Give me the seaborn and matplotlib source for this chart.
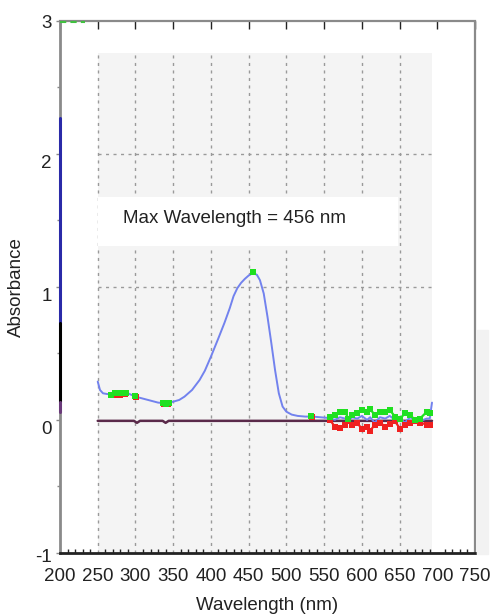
import numpy as np
import matplotlib
matplotlib.use("Agg")
import matplotlib.pyplot as plt
import matplotlib.transforms as mtransforms
from matplotlib.ticker import MultipleLocator
import seaborn as sns
import pandas as pd

sns.set_theme(style="white")
plt.rcParams['font.family'] = ['Liberation Sans', 'DejaVu Sans']

# ---- data ----
wl_main = [250, 253, 257, 262, 270, 280, 290, 300, 310, 320, 330, 340, 350,
           358, 365, 375, 385, 392, 400, 410, 418, 425, 430, 435, 440, 445,
           450, 456, 461, 465, 470, 475, 480, 485, 490, 495, 500, 507, 515,
           525, 535, 545, 555]
abs_main = [0.288, 0.225, 0.20, 0.195, 0.19, 0.195, 0.20, 0.175, 0.16, 0.145,
            0.13, 0.125, 0.137, 0.15, 0.175, 0.225, 0.30, 0.37, 0.475, 0.615,
            0.73, 0.84, 0.93, 0.99, 1.03, 1.06, 1.085, 1.105, 1.09, 1.05, 0.95,
            0.775, 0.58, 0.375, 0.20, 0.10, 0.062, 0.04, 0.03, 0.025, 0.025,
            0.02, 0.015]

wl_noise = [558, 564, 571, 578, 582, 587, 594, 600, 607, 611, 617, 624, 631,
            637, 644, 651, 657, 664, 670, 677, 686, 690]
blue_noise = [0.015, 0.0, 0.02, 0.01, -0.01, 0.02, 0.01, 0.03, 0.0, 0.02,
              -0.02, 0.02, 0.01, 0.03, 0.0, 0.01, -0.02, 0.02, 0.0, -0.01,
              0.01, 0.01]
green_noise = [0.02, 0.04, 0.06, 0.06, 0.01, 0.04, 0.05, 0.075, 0.06, 0.08,
               0.04, 0.06, 0.06, 0.075, 0.025, 0.01, 0.05, 0.04, 0.0, 0.01,
               0.06, 0.05]
red_noise = [0.0, -0.05, -0.06, -0.035, -0.01, -0.035, -0.02, -0.07, -0.05,
             -0.085, -0.035, -0.02, -0.05, -0.03, -0.01, -0.07, -0.035, -0.02,
             -0.01, -0.02, -0.035, -0.035]
wl_end = [693]
abs_end = [0.13]

base_wl = [250, 298, 302, 306, 336, 340, 344, 693]
base_abs = [-0.007, -0.007, -0.022, -0.007, -0.007, -0.022, -0.007, -0.007]

green_pts_wl = [268, 273, 278, 283, 288, 300, 336, 340, 344, 456, 532]
green_pts_abs = [0.19, 0.20, 0.20, 0.205, 0.20, 0.18, 0.125, 0.12, 0.125, 1.11, 0.03]
red_pts_wl = [271, 280, 286, 301, 338, 343, 534]
red_pts_abs = [0.185, 0.19, 0.195, 0.17, 0.12, 0.12, 0.025]

# trace stuck on the left edge (x = 200)
edge_blue = [2.27, 0.73]
edge_black = [0.73, 0.135]
edge_purple = [0.135, 0.06]

peak_label = "Max Wavelength = 456 nm"
x_ticks = [200, 250, 300, 350, 400, 450, 500, 550, 600, 650, 700, 750]
y_ticks = [-1, 0, 1, 2, 3]
y_label_drop = [3, 8, 8, 8, 1]   # px the y labels sit below their ticks

spec = pd.DataFrame({
    "wl": wl_main + wl_noise + wl_end,
    "absorbance": abs_main + blue_noise + abs_end,
})
noise = pd.DataFrame({"wl": wl_noise, "green": green_noise, "red": red_noise})

fig = plt.figure(figsize=(4.93, 6.16), dpi=100)
ax = fig.add_axes([0.1217, 0.1023, 0.8418, 0.8641])
ax.set_xlim(200, 750)
ax.set_ylim(-1, 3)

# light panel behind the grid, with a white box for the readout
ax.fill_between([250, 693], -1, 2.76, color="#f4f4f4", lw=0, zorder=0)
grid_kw = dict(colors="#9a9a9a", linestyles=(0, (2.2, 3.2)), lw=1.0, zorder=1)
ax.vlines(x_ticks[1:-2], -1, 2.76, **grid_kw)
ax.hlines([1, 2], 250, 693, **grid_kw)
ax.fill_between([250, 648], 1.31, 1.675, color="white", lw=0, zorder=2)
fig.patches.append(plt.Rectangle((0.968, 0.10), 0.022, 0.364, color="#f2f2f2",
                                 transform=fig.transFigure, zorder=0))

ax.text(283, 1.51, peak_label, fontsize=13.5, color="#222222", va="center",
        ha="left", zorder=6)

# baseline and spectrum
sns.lineplot(x=base_wl, y=base_abs, color="#5a2a4a", lw=1.8, ax=ax, zorder=3)
sns.lineplot(data=spec, x="wl", y="absorbance", sort=False, estimator=None,
             color="#7282ee", lw=1.4, ax=ax, zorder=4)
sns.lineplot(data=noise, x="wl", y="red", sort=False, estimator=None,
             color="#f02020", lw=1.6, marker="s", markersize=4.2,
             markeredgewidth=0, ax=ax, zorder=4)
sns.lineplot(data=noise, x="wl", y="green", sort=False, estimator=None,
             color="#20e020", lw=1.6, marker="s", markersize=4.2,
             markeredgewidth=0, ax=ax, zorder=5)
sns.scatterplot(x=red_pts_wl, y=red_pts_abs, color="#f02020", marker="s",
                s=18, linewidth=0, ax=ax, zorder=5)
sns.scatterplot(x=green_pts_wl, y=green_pts_abs, color="#20e020", marker="s",
                s=20, linewidth=0, ax=ax, zorder=6)

# traces pinned at the left edge and top-left corner
ax.plot([200, 200], edge_blue, color="#2a2aa8", lw=2.2, zorder=7, clip_on=False)
ax.plot([200, 200], edge_black, color="black", lw=2.2, zorder=7, clip_on=False)
ax.plot([200, 200], edge_purple, color="#6a3a7a", lw=2.2, zorder=7, clip_on=False)
ax.plot([200, 233], [2.99, 2.99], color="#40c040", lw=1.5, ls=(0, (3, 2)),
        zorder=7, clip_on=False)

# frame
ax.spines["left"].set_color("#8a8a8a")
ax.spines["left"].set_linewidth(2)
ax.spines["bottom"].set_color("#222222")
ax.spines["bottom"].set_linewidth(2)
for side in ["top", "right"]:
    ax.spines[side].set_color("#8a8a8a")
    ax.spines[side].set_linewidth(1.6)
    ax.spines[side].set_linestyle((0, (3, 1)))

ax.set_xticks(x_ticks)
ax.set_yticks(y_ticks)
ax.set_yticklabels([str(v) for v in y_ticks])
ax.xaxis.set_minor_locator(MultipleLocator(10))
ax.yaxis.set_minor_locator(MultipleLocator(0.5))
ax.tick_params(axis="x", which="major", direction="in", length=6, width=1,
               color="#222222", labelsize=13.5, pad=11, top=True)
ax.tick_params(axis="x", which="minor", direction="in", length=3, width=1,
               color="#222222", bottom=True)
ax.tick_params(axis="y", which="major", direction="out", length=3, width=1,
               color="#8a8a8a", labelsize=13.5, pad=3, left=True)
ax.tick_params(axis="y", which="minor", direction="out", length=2, width=1,
               color="#8a8a8a", left=True)
ax.tick_params(labelcolor="#222222")

for lab, drop in zip(ax.get_yticklabels(), y_label_drop):
    lab.set_transform(lab.get_transform() +
                      mtransforms.ScaledTranslation(0, -drop / 100, fig.dpi_scale_trans))

ax.set_xlabel("Wavelength (nm)", fontsize=13.5, color="#222222")
ax.set_ylabel("Absorbance", fontsize=13.5, color="#222222")
ax.xaxis.set_label_coords(0.5, -0.083)
ax.yaxis.set_label_coords(-0.084, 0.5)

fig.savefig("out.png", dpi=100)
